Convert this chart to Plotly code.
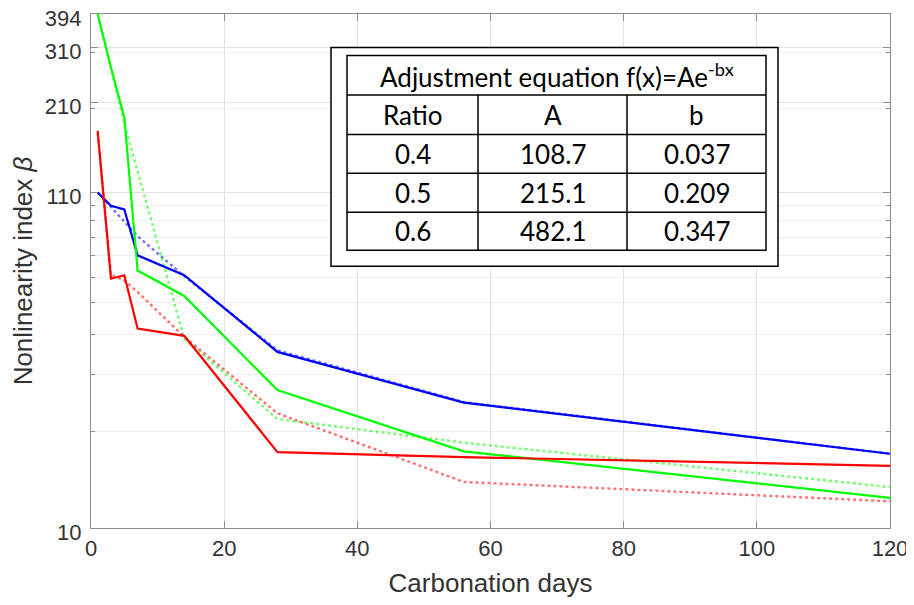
import plotly.graph_objects as go
import math

# ---------------- data ----------------
days = [1, 3, 5, 7, 14, 28, 56, 120]

blue_exp = [110, 100, 97.5, 70.2, 60.9, 35.2, 24.5, 17.0]
blue_fit = [110, 99, 89, 80.5, 60.5, 35.6, 24.6, 17.0]

green_exp = [394, 269, 188, 63, 52.5, 26.8, 17.3, 12.4]
green_fit = [394, 265, 180, 128, 38.7, 21.8, 18.4, 13.4]

red_exp = [171, 59.4, 60.9, 41.6, 39.5, 17.2, 16.6, 15.6]
red_fit = [168, 61, 58.7, 54, 39.2, 22.7, 13.9, 12.1]

x_ticks = [0, 20, 40, 60, 80, 100, 120]
y_ticks = [10, 110, 210, 310, 394]
y_minor = [20, 30, 40, 50, 60, 70, 80, 90, 100, 200, 300]

table_header = "Adjustment equation f(x)=Ae<sup>-bx</sup>"
table_cols = ["Ratio", "A", "b"]
ratios = ["0.4", "0.5", "0.6"]
A_vals = ["108.7", "215.1", "482.1"]
b_vals = ["0.037", "0.209", "0.347"]

# ---------------- figure ----------------
# page body has an 8px default margin; screen-space targets below
OFF = 8
SW, SH = 914, 605
L, R, T, B = 91, 890, 13.5, 528   # plot area in screen pixels
W, H = SW - OFF, SH - OFF

fig = go.Figure()

series = [
    (blue_fit, "#0000ff", "dot"), (green_fit, "#00ff00", "dot"), (red_fit, "#ff0000", "dot"),
    (blue_exp, "#0000ff", "solid"), (green_exp, "#00ff00", "solid"), (red_exp, "#ff0000", "solid"),
]
for ys, col, dash in series:
    fig.add_trace(go.Scatter(
        x=days, y=ys, mode="lines",
        line=dict(color=col, width=2.2 if dash == "solid" else 2.4, dash=dash),
        opacity=1.0 if dash == "solid" else 0.55,
        showlegend=False, hoverinfo="skip"))


def px(xp):
    return (xp - L) / (R - L)


def py(yp):
    return (B - yp) / (B - T)


shapes = []
shapes.append(dict(type="rect", xref="paper", yref="paper",
                   x0=px(331), x1=px(778), y0=py(266), y1=py(47),
                   line=dict(color="#000000", width=1.5), fillcolor="white", layer="above"))
tx0, tx1 = 347, 766
row_y = [55, 94.5, 134, 173, 212, 250]
col_x = [347, 478, 627, 766]
shapes.append(dict(type="rect", xref="paper", yref="paper",
                   x0=px(tx0), x1=px(tx1), y0=py(row_y[-1]), y1=py(row_y[0]),
                   line=dict(color="#000000", width=1.5), layer="above"))
for yy in row_y[1:-1]:
    shapes.append(dict(type="line", xref="paper", yref="paper",
                       x0=px(tx0), x1=px(tx1), y0=py(yy), y1=py(yy),
                       line=dict(color="#000000", width=1.5), layer="above"))
for xx in col_x[1:-1]:
    shapes.append(dict(type="line", xref="paper", yref="paper",
                       x0=px(xx), x1=px(xx), y0=py(row_y[1]), y1=py(row_y[-1]),
                       line=dict(color="#000000", width=1.5), layer="above"))

tfont = dict(family="Lato, Open Sans, sans-serif", size=26, color="#000000")
ann = []
ann.append(dict(xref="paper", yref="paper", x=px((tx0 + tx1) / 2), y=py((row_y[0] + row_y[1]) / 2),
                text=table_header, showarrow=False, font=tfont, xanchor="center", yanchor="middle"))
rows = [table_cols] + [list(r) for r in zip(ratios, A_vals, b_vals)]
for ri, row in enumerate(rows):
    yc = (row_y[ri + 1] + row_y[ri + 2]) / 2
    for ci, txt in enumerate(row):
        xc = (col_x[ci] + col_x[ci + 1]) / 2
        ann.append(dict(xref="paper", yref="paper", x=px(xc), y=py(yc), text=txt,
                        showarrow=False, font=tfont, xanchor="center", yanchor="middle"))

fig.update_layout(
    width=W, height=H,
    margin=dict(l=L - OFF, r=SW - R, t=T - OFF, b=SH - B, autoexpand=False),
    paper_bgcolor="white", plot_bgcolor="white",
    shapes=shapes, annotations=ann,
    font=dict(family="Liberation Sans, Arial, sans-serif", color="#333333"),
    xaxis=dict(range=[0, 120], tickvals=x_ticks, ticktext=[str(v) for v in x_ticks],
               automargin=False, ticklabeloverflow="allow",
               showgrid=True, gridcolor="#e3e3e3", gridwidth=1,
               showline=True, linecolor="#8c8c8c", linewidth=1.2, mirror="ticks",
               ticks="inside", ticklen=7, tickcolor="#8c8c8c",
               tickfont=dict(size=22, color="#333333"),
               title=dict(text="Carbonation days", font=dict(size=26, color="#333333"), standoff=14),
               zeroline=False),
    yaxis=dict(type="log", range=[1, math.log10(394)], tickvals=y_ticks,
               ticktext=[str(v) for v in y_ticks], automargin=False,
               ticklabeloverflow="allow", ticklabelstandoff=4, ticklabelshift=4,
               showgrid=True, gridcolor="#e3e3e3", gridwidth=1,
               showline=True, linecolor="#8c8c8c", linewidth=1.2, mirror="ticks",
               ticks="inside", ticklen=7, tickcolor="#8c8c8c",
               tickfont=dict(size=22, color="#333333"),
               minor=dict(tickmode="array", tickvals=y_minor, ticks="inside", ticklen=4,
                          tickcolor="#8c8c8c", showgrid=True, gridcolor="#efefef", gridwidth=1),
               title=dict(text="Nonlinearity index <i>β</i>", font=dict(size=26, color="#333333"),
                          standoff=8),
               zeroline=False),
)

fig.write_html("out.html")
